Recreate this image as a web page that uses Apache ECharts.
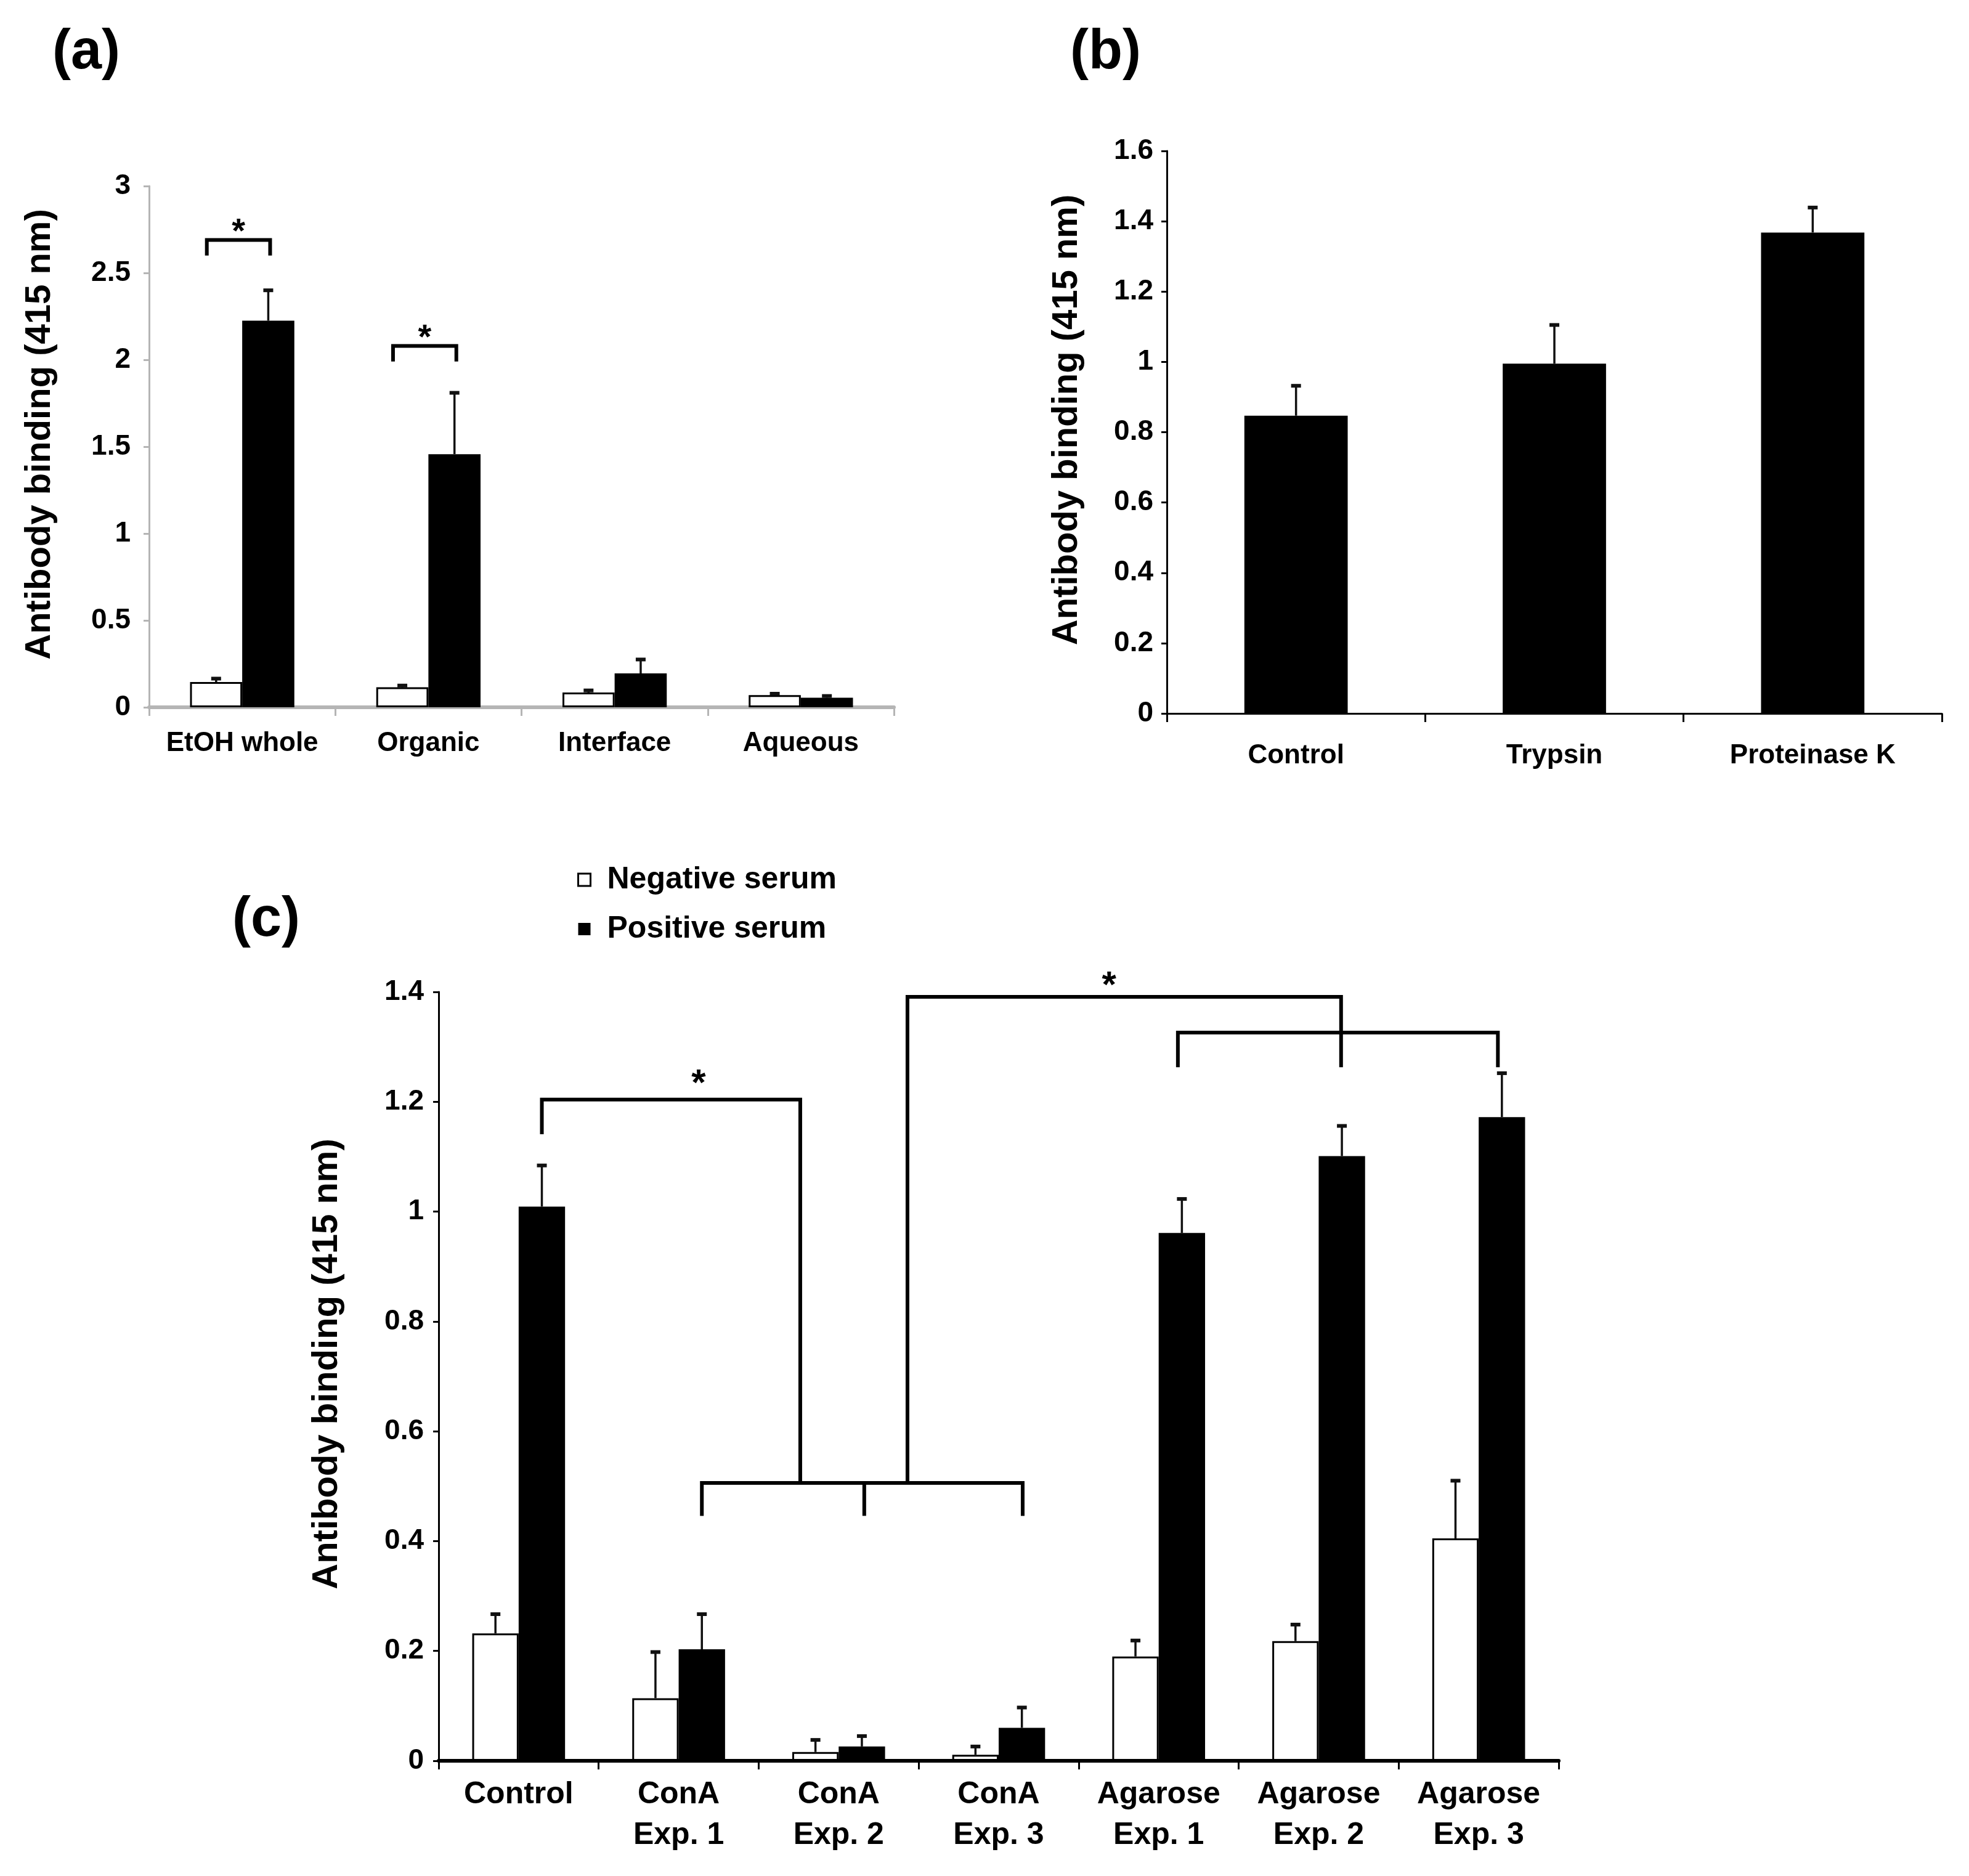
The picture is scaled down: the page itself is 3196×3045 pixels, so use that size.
<!DOCTYPE html>
<html>
<head>
<meta charset="utf-8">
<title>Antibody binding</title>
<script src="https://cdn.jsdelivr.net/npm/echarts@6/dist/echarts.min.js"></script>
<style>
  html, body { margin: 0; padding: 0; background: #fff; }
  #main { width: 3196px; height: 3045px; }
</style>
</head>
<body>
<div id="main"></div>
<script>
// ---- data (a) ----
const catA = ['EtOH whole', 'Organic', 'Interface', 'Aqueous'];
const negA = [0.145, 0.115, 0.085, 0.07];
const negErrA = [0.02, 0.01, 0.012, 0.008];
const posA = [2.225, 1.457, 0.195, 0.055];
const posErrA = [0.175, 0.353, 0.08, 0.01];

// ---- data (b) ----
const catB = ['Control', 'Trypsin', 'Proteinase K'];
const valB = [0.847, 0.995, 1.368];
const errB = [0.085, 0.11, 0.071];

// ---- data (c) ----
const catC = ['Control', 'ConA\nExp. 1', 'ConA\nExp. 2', 'ConA\nExp. 3', 'Agarose\nExp. 1', 'Agarose\nExp. 2', 'Agarose\nExp. 3'];
const negC = [0.232, 0.114, 0.016, 0.011, 0.19, 0.218, 0.405];
const negErrC = [0.035, 0.084, 0.022, 0.015, 0.029, 0.03, 0.105];
const posC = [1.009, 0.203, 0.026, 0.06, 0.961, 1.101, 1.172];
const posErrC = [0.075, 0.064, 0.019, 0.037, 0.062, 0.055, 0.08];

// significance brackets: [category position, value] points, star = [position, value]
const bracketsA = [
    { lines: [[[-0.19, 2.6], [-0.19, 2.69], [0.15, 2.69], [0.15, 2.6]]], star: [-0.02, 2.775] },
    { lines: [[[0.81, 1.99], [0.81, 2.08], [1.15, 2.08], [1.15, 1.99]]], star: [0.98, 2.165] }
];
const bracketsC = [
    { lines: [[[0.145, 1.141], [0.145, 1.204], [1.76, 1.204], [1.76, 0.506]]], star: [1.125, 1.246] },
    { lines: [[[1.145, 0.446], [1.145, 0.506], [3.15, 0.506], [3.15, 0.446]], [[2.16, 0.506], [2.16, 0.446]]] },
    { lines: [[[2.43, 0.506], [2.43, 1.391], [5.14, 1.391], [5.14, 1.263]]], star: [3.69, 1.424] },
    { lines: [[[4.12, 1.263], [4.12, 1.326], [6.12, 1.326], [6.12, 1.263]]] }
];

const FONT = '"Liberation Sans", Arial, sans-serif';

// error bar drawn from bar top upward, side = -1 left bar, 0 single bar, 1 right bar
const errorBar = function(errArr, side, pct) {
    return function(params, api) {
        let idx = api.value(0);
        let v = api.value(1);
        let band = api.size([1, 0])[0];
        let w = band * pct;
        let p0 = api.coord([idx, v]);
        let p1 = api.coord([idx, v + errArr[params.dataIndex]]);
        let x = p0[0] + side * w / 2;
        return {
            type: 'group',
            children: [
                { type: 'line', shape: { x1: x, y1: p0[1], x2: x, y2: p1[1] }, style: { stroke: '#111', lineWidth: 3.5 } },
                { type: 'line', shape: { x1: x - 8, y1: p1[1], x2: x + 8, y2: p1[1] }, style: { stroke: '#111', lineWidth: 6 } }
            ]
        };
    };
};

// brackets with asterisk
const bracket = function(list, starSize) {
    return function(params, api) {
        let b = list[params.dataIndex];
        let band = api.size([1, 0])[0];
        let toPx = function(p) {
            let c = api.coord([0, p[1]]);
            return [c[0] + p[0] * band, c[1]];
        };
        let children = b.lines.map(function(pts) {
            return {
                type: 'polyline',
                shape: { points: pts.map(toPx) },
                style: { stroke: '#000', lineWidth: 6, fill: null, lineJoin: 'miter' }
            };
        });
        if (b.star) {
            let s = toPx(b.star);
            children.push({
                type: 'text',
                style: {
                    text: '*', x: s[0], y: s[1] + starSize * 0.22,
                    align: 'center', verticalAlign: 'middle',
                    font: 'bold ' + starSize + 'px ' + FONT, fill: '#000'
                }
            });
        }
        return { type: 'group', children: children };
    };
};

const valueAxis = function(gridIndex, max, interval, color, nameGap, labelMargin, fontSize) {
    return {
        gridIndex: gridIndex,
        type: 'value',
        min: 0,
        max: max,
        interval: interval,
        name: 'Antibody binding (415 nm)',
        nameLocation: 'middle',
        nameGap: nameGap,
        nameTextStyle: { fontSize: 58, fontWeight: 'bold', color: '#000', fontFamily: FONT, padding: [0, 0, 0, 40] },
        axisLine: { show: true, lineStyle: { color: color, width: 3 } },
        axisTick: { show: true, length: 9, lineStyle: { color: color, width: 3 } },
        splitLine: { show: false },
        axisLabel: { margin: labelMargin, fontSize: fontSize, fontWeight: 'bold', color: '#000', fontFamily: FONT }
    };
};

const catAxis = function(gridIndex, data, color, width, labelMargin, fontSize) {
    return {
        gridIndex: gridIndex,
        type: 'category',
        data: data,
        axisLine: { lineStyle: { color: color, width: width } },
        axisTick: { show: true, length: 14, lineStyle: { color: color, width: 3 } },
        axisLabel: {
            interval: 0, margin: labelMargin, fontSize: fontSize, lineHeight: 66,
            fontWeight: 'bold', color: '#000', fontFamily: FONT
        }
    };
};

const negStyle = { color: '#fff', borderColor: '#000', borderWidth: 3 };
const posStyle = { color: '#000' };
const titleStyle = { fontSize: 90, fontWeight: 'bold', color: '#000', fontFamily: FONT };

let myChart = echarts.init(document.getElementById('main'), null, { renderer: 'canvas' });

let option = {
    backgroundColor: '#fff',
    animation: false,
    textStyle: { fontFamily: FONT },
    title: [
        { text: '(a)', left: 80, top: 36, textStyle: titleStyle },
        { text: '(b)', left: 1732, top: 36, textStyle: titleStyle },
        { text: '(c)', left: 372, top: 1444, textStyle: titleStyle }
    ],
    legend: {
        orient: 'vertical',
        left: 932,
        top: 1398,
        itemWidth: 20,
        itemHeight: 20,
        itemGap: 30,
        data: [
            { name: 'Negative serum', icon: 'rect', itemStyle: negStyle },
            { name: 'Positive serum', icon: 'rect', itemStyle: posStyle }
        ],
        textStyle: { fontSize: 50, fontWeight: 'bold', color: '#000', fontFamily: FONT, padding: [0, 0, 0, 22] }
    },
    grid: [
        { left: 242, top: 302, width: 1209, height: 846 },
        { left: 1894, top: 245, width: 1258, height: 913 },
        { left: 712, top: 1610, width: 1818, height: 1248 }
    ],
    xAxis: [
        catAxis(0, catA, '#b5b5b5', 6, 26, 44),
        catAxis(1, catB, '#000', 3, 36, 44),
        catAxis(2, catC, '#000', 6, 22, 50)
    ],
    yAxis: [
        valueAxis(0, 3, 0.5, '#b5b5b5', 148, 30, 46),
        valueAxis(1, 1.6, 0.2, '#000', 133, 22, 46),
        valueAxis(2, 1.4, 0.2, '#000', 152, 24, 46)
    ],
    series: [
        // (a)
        { name: 'Negative serum', type: 'bar', xAxisIndex: 0, yAxisIndex: 0, barWidth: '28%', barGap: '0%', data: negA, itemStyle: negStyle },
        { name: 'Positive serum', type: 'bar', xAxisIndex: 0, yAxisIndex: 0, barWidth: '28%', barGap: '0%', data: posA, itemStyle: posStyle },
        { type: 'custom', xAxisIndex: 0, yAxisIndex: 0, renderItem: errorBar(negErrA, -1, 0.28), data: negA.map((v, i) => [i, v]), z: 3 },
        { type: 'custom', xAxisIndex: 0, yAxisIndex: 0, renderItem: errorBar(posErrA, 1, 0.28), data: posA.map((v, i) => [i, v]), z: 3 },
        { type: 'custom', xAxisIndex: 0, yAxisIndex: 0, renderItem: bracket(bracketsA, 56), data: bracketsA.map(() => [0, 0]), z: 4 },
        // (b)
        { name: 'Serum', type: 'bar', xAxisIndex: 1, yAxisIndex: 1, barWidth: '40%', data: valB, itemStyle: posStyle },
        { type: 'custom', xAxisIndex: 1, yAxisIndex: 1, renderItem: errorBar(errB, 0, 0.4), data: valB.map((v, i) => [i, v]), z: 3 },
        // (c)
        { name: 'Negative serum', type: 'bar', xAxisIndex: 2, yAxisIndex: 2, barWidth: '29%', barGap: '0%', data: negC, itemStyle: negStyle },
        { name: 'Positive serum', type: 'bar', xAxisIndex: 2, yAxisIndex: 2, barWidth: '29%', barGap: '0%', data: posC, itemStyle: posStyle },
        { type: 'custom', xAxisIndex: 2, yAxisIndex: 2, renderItem: errorBar(negErrC, -1, 0.29), data: negC.map((v, i) => [i, v]), z: 3 },
        { type: 'custom', xAxisIndex: 2, yAxisIndex: 2, renderItem: errorBar(posErrC, 1, 0.29), data: posC.map((v, i) => [i, v]), z: 3 },
        { type: 'custom', xAxisIndex: 2, yAxisIndex: 2, renderItem: bracket(bracketsC, 60), data: bracketsC.map(() => [0, 0]), z: 4 }
    ]
};

myChart.setOption(option);

window.addEventListener('resize', function() {
    myChart.resize();
});
</script>
</body>
</html>
